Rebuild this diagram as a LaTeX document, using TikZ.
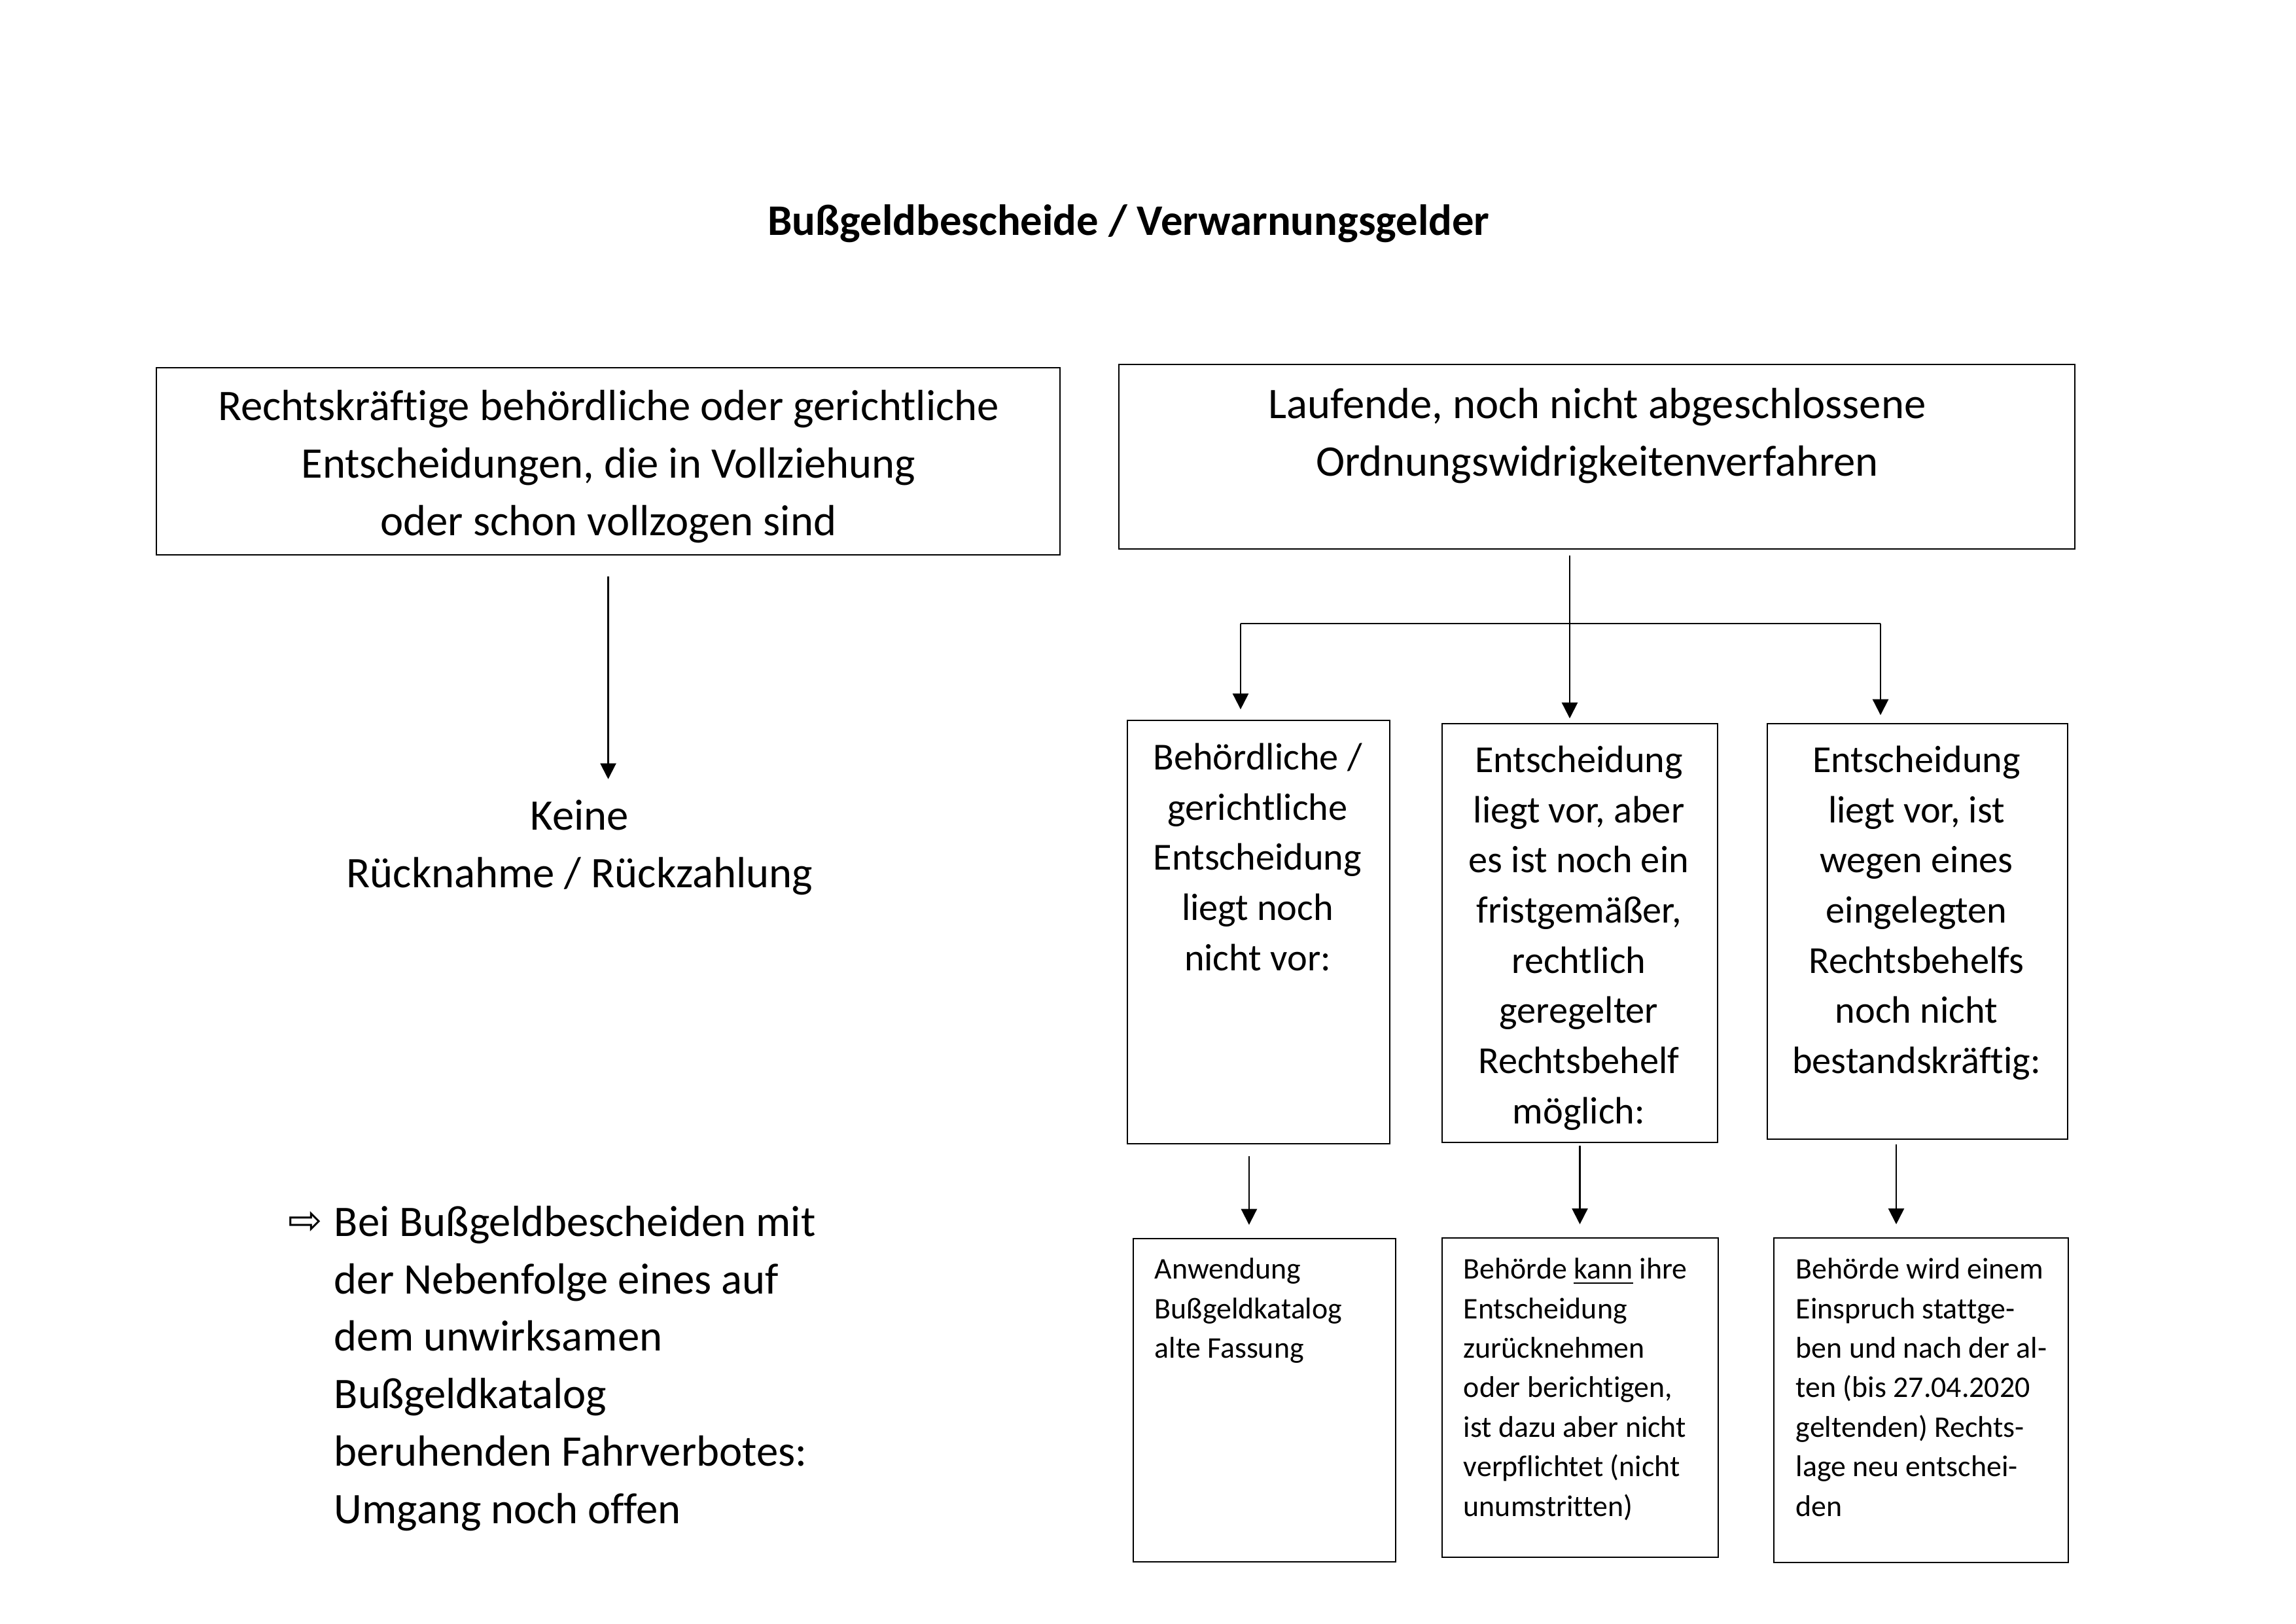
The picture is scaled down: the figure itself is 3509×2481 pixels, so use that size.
\documentclass[tikz,border=0pt]{standalone}
\usepackage{fontspec}
\setmainfont{Carlito}[Ligatures=NoCommon]
\newfontfamily\pfeilfont{DejaVu Sans}
\usetikzlibrary{arrows.meta}

\tikzset{
frame/.style={draw, line width=0.5pt, inner sep=0pt},
bigtext/.style={font=\fontsize{16}{21.1}\selectfont, align=center, inner sep=0pt},
midtext/.style={font=\fontsize{14}{18.4}\selectfont, align=center, inner sep=0pt, anchor=north},
smalltext/.style={font=\fontsize{11}{14.5}\selectfont, align=left, inner sep=0pt, anchor=north west},
arr/.style={-{Triangle[length=5.8pt,width=5.8pt]}, line width=0.5pt}
}

\begin{document}
\begin{tikzpicture}[%
x=0.24pt, y=-0.24pt]
\useasboundingbox (0,0) rectangle (3509,2481);

\node[font=\fontsize{16}{19}\selectfont\bfseries] (titel) at (1725,342) {Bußgeldbescheide / Verwarnungsgelder};

\node[frame, minimum width=331.4pt, minimum height=68.6pt] (rechtskraft) at (929.5,705) {};
\node[bigtext] (rechtskrafttext) at (930,713) {Rechtskräftige behördliche oder gerichtliche\\Entscheidungen, die in Vollziehung\\oder schon vollzogen sind};
\node[frame, minimum width=350.6pt, minimum height=67.7pt] (laufend) at (2440.5,698) {};
\node[bigtext] (laufendtext) at (2441,666) {Laufende, noch nicht abgeschlossene\\Ordnungswidrigkeitenverfahren};

\node[bigtext] (keine) at (886,1295) {Keine\\Rücknahme / Rückzahlung};

\node[frame, minimum width=96.2pt, minimum height=155.3pt] (nochnicht) at (1923.5,1424.5) {};
\node[frame, minimum width=101pt, minimum height=153.6pt] (fristgemaess) at (2414.5,1426) {};
\node[frame, minimum width=110.2pt, minimum height=152.4pt] (eingelegt) at (2930.5,1423.5) {};
\node[midtext] (nochnichttext) at (1922,1135) {Behördliche /\\gerichtliche\\Entscheidung\\liegt noch\\nicht vor:};
\node[midtext] (fristgemaesstext) at (2413,1139) {Entscheidung\\liegt vor, aber\\es ist noch ein\\fristgemäßer,\\rechtlich\\geregelter\\Rechtsbehelf\\möglich:};
\node[midtext] (eingelegttext) at (2929,1139) {Entscheidung\\liegt vor, ist\\wegen eines\\eingelegten\\Rechtsbehelfs\\noch nicht\\bestandskräftig:};

\node[frame, minimum width=96.2pt, minimum height=118.6pt] (altkatalog) at (1932.5,2140) {};
\node[frame, minimum width=101.3pt, minimum height=117.1pt] (kann) at (2415,2136) {};
\node[frame, minimum width=108pt, minimum height=119pt] (stattgeben) at (2936,2140) {};
\node[smalltext] (altkatalogtext) at (1764,1922) {Anwendung\\Bußgeldkatalog\\alte Fassung};
\node[smalltext] (kanntext) at (2236,1922) {Behörde \underline{kann} ihre\\Entscheidung\\zurücknehmen\\oder berichtigen,\\ist dazu aber nicht\\verpflichtet (nicht\\unumstritten)};
\node[smalltext] (stattgebentext) at (2744,1922) {Behörde wird einem\\Einspruch stattge-\\ben und nach der al-\\ten (bis 27.04.2020\\geltenden) Rechts-\\lage neu entschei-\\den};

\node[font=\pfeilfont\fontsize{15}{17}\selectfont, inner sep=0pt] (pfeil) at (467,1869) {⇨};
\node[font=\fontsize{16}{21.1}\selectfont, align=left, inner sep=0pt, anchor=north west] (fahrverbot) at (510,1842)
  {Bei Bußgeldbescheiden mit\\der Nebenfolge eines auf\\dem unwirksamen\\Bußgeldkatalog\\beruhenden Fahrverbotes:\\Umgang noch offen};

\coordinate (gabel) at (2399,953);
\coordinate (links) at (1896,953);
\coordinate (rechts) at (2874,953);

\draw[arr, shorten <=7.7pt, shorten >=7.4pt] (rechtskraft.south) -- (rechtskraft.south |- keine.north);
\draw[arr, shorten <=2.2pt, shorten >=1.7pt] (gabel |- laufend.south) -- (gabel |- fristgemaess.north);
\draw[line width=0.6pt] (links) -- (rechts);
\draw[arr, shorten >=3.8pt] (links) -- (links |- nochnicht.north);
\draw[arr, shorten >=2.9pt] (rechts) -- (rechts |- eingelegt.north);
\draw[arr, shorten <=4.3pt, shorten >=4.8pt] ([xshift=-3.5pt]nochnicht.south) -- ([xshift=-3.5pt]nochnicht.south |- altkatalog.north);
\draw[arr, shorten <=1pt, shorten >=4.8pt] (fristgemaess.south) -- (fristgemaess.south |- kann.north);
\draw[arr, shorten <=1.7pt, shorten >=4.8pt] ([xshift=-7.8pt]eingelegt.south) -- ([xshift=-7.8pt]eingelegt.south |- stattgeben.north);
\end{tikzpicture}
\end{document}
